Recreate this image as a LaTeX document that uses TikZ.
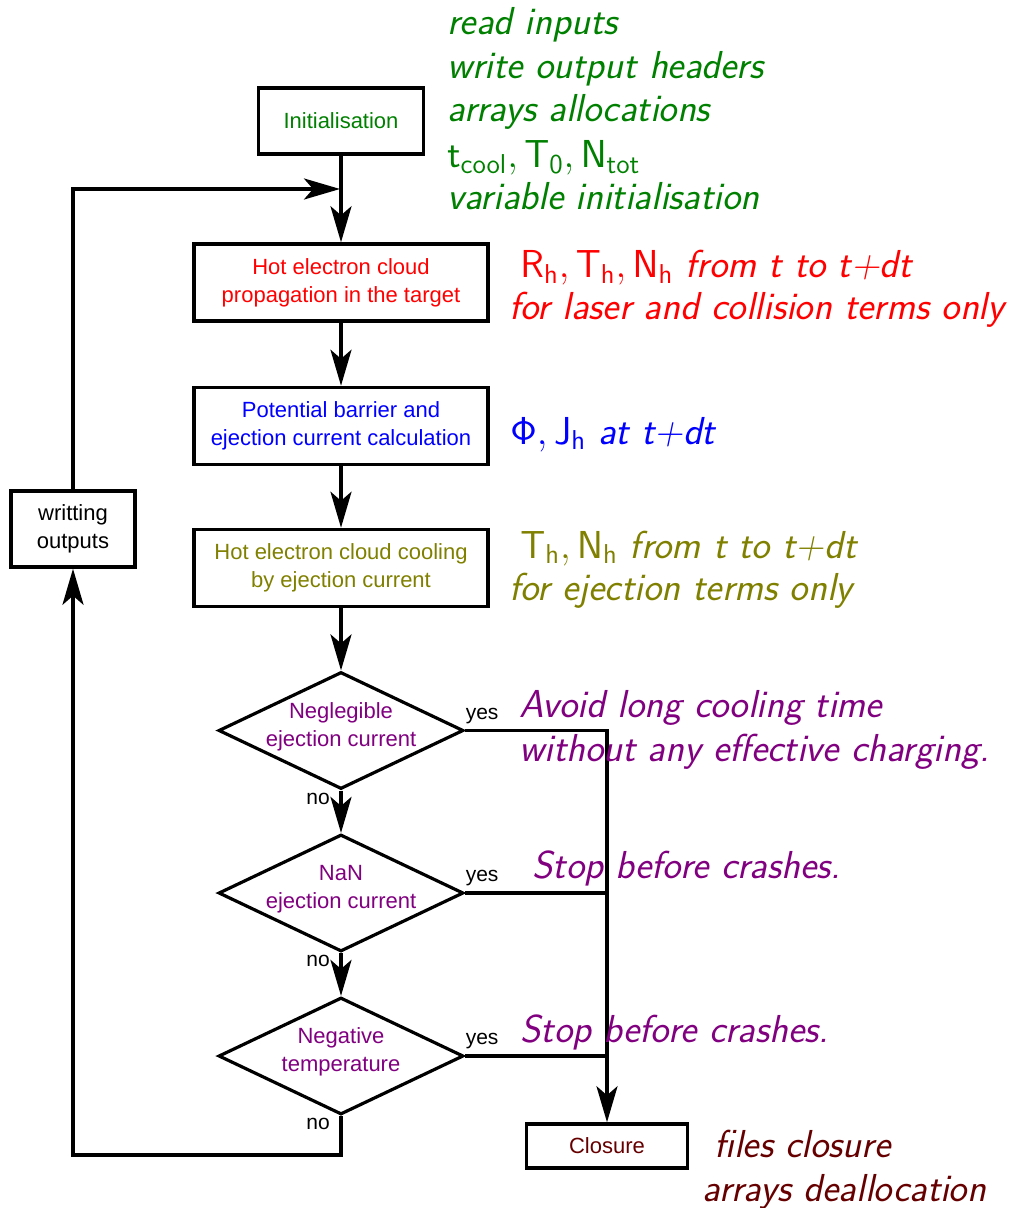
\RequirePackage{fix-cm}
\documentclass[tikz,border=0pt]{standalone}
\usepackage[no-math]{fontspec}
\newfontfamily\arialf{Liberation Sans}
\usetikzlibrary{shapes.geometric,arrows.meta}
\definecolor{cgreen}{rgb}{0,0.5,0}
\definecolor{colive}{rgb}{0.5,0.5,0}
\definecolor{cpurple}{rgb}{0.5,0,0.5}
\definecolor{cmaroon}{rgb}{0.4,0,0}
\newcommand{\diatext}[1]{\raisebox{2pt}[\height][\depth]{\begin{tabular}{@{}c@{}}#1\end{tabular}}}
\tikzset{
  box/.style={draw, line width=1.75pt, align=center, inner sep=0pt,
    font=\arialf\fontsize{11}{14}\selectfont},
  widebox/.style={box, minimum width=147pt, minimum height=38.5pt},
  dia/.style={draw, diamond, line width=1.6pt, aspect=2.094, inner xsep=-4pt, inner ysep=-6pt,
    minimum width=122.5pt, minimum height=58.5pt, text=cpurple,
    font=\arialf\fontsize{11}{14}\selectfont},
  ln/.style={line width=1.75pt},
  arr/.style={ln, -{Stealth[length=18pt,width=10.5pt,inset=4.5pt]}},
  lbl/.style={inner sep=0pt, font=\arialf\fontsize{10.5}{12}\selectfont},
  ann/.style={anchor=base west, inner sep=0pt,
    font=\sffamily\slshape\fontsize{19.5}{23}\selectfont}
}
\begin{document}
\begin{tikzpicture}[x=0.5pt,y=-0.5pt]
\useasboundingbox (0,0) rectangle (1011,1208);
% boxes
\node[box, minimum width=82.5pt, minimum height=33pt, text=cgreen] (init) at (341,121) {Initialisation};
\node[widebox, text=red] (hot) at (341,282.5) {Hot electron cloud\\propagation in the target};
\node[widebox, text=blue] (pot) at (341,426) {Potential barrier and\\ejection current calculation};
\node[widebox, text=colive] (cool) at (341,568) {Hot electron cloud cooling\\by ejection current};
\node[dia] (d1) at (341,730.5) {\diatext{Neglegible\\ejection current}};
\node[dia] (d2) at (341,893) {\diatext{NaN\\ejection current}};
\node[dia] (d3) at (341,1056) {\diatext{Negative\\temperature}};
\node[box, minimum width=62pt, minimum height=38pt] (wo) at (73,529) {writting\\outputs};
\node[box, minimum width=80.5pt, minimum height=22pt, text=cmaroon] (clo) at (607,1146) {Closure};
% connectors
\draw[arr] (init) -- (hot);
\draw[arr] (hot) -- (pot);
\draw[arr] (pot) -- (cool);
\draw[arr] (cool) -- (d1);
\draw[arr] (d1) -- (d2);
\draw[arr] (d2) -- (d3);
\draw[arr] (d1.east) -| (clo.north);
\draw[ln] (d2.east) -- (d2.east -| clo.north);
\draw[ln] (d3.east) -- (d3.east -| clo.north);
\coordinate (lb) at (73,1155);
\draw[arr] (d3.south) |- (lb) -- (wo.south);
\coordinate (lt) at (340,189);
\draw[arr] (wo.north) |- (lt);
% yes / no labels
\node[lbl] (y1) at ([xshift=8.5pt,yshift=7.25pt]d1.east) {yes};
\node[lbl] (y2) at ([xshift=8.5pt,yshift=7.25pt]d2.east) {yes};
\node[lbl] (y3) at ([xshift=8.5pt,yshift=7.25pt]d3.east) {yes};
\node[lbl] (n1) at ([xshift=-11.5pt,yshift=-4pt]d1.south) {no};
\node[lbl] (n2) at ([xshift=-11.5pt,yshift=-4pt]d2.south) {no};
\node[lbl] (n3) at ([xshift=-11.5pt,yshift=-4pt]d3.south) {no};
% annotations
\node[ann, text=cgreen] (g1) at (447,35) {read inputs};
\node[ann, text=cgreen] (g2) at (447,79) {write output headers};
\node[ann, text=cgreen] (g3) at (447,122) {arrays allocations};
\node[ann, text=cgreen] (g4) at (447,168) {$\mathsf{t_{cool}, T_0, N_{tot}}$};
\node[ann, text=cgreen] (g5) at (447,210) {variable initialisation};
\node[ann, text=red] (r1) at (520,278) {$\mathsf{R_h, T_h, N_h}$ from t to t+dt};
\node[ann, text=red] (r2) at (509,320) {for laser and collision terms only};
\node[ann, text=blue] (b1) at (510,444) {$\mathsf{\Phi, J_h}$ at t+dt};
\node[ann, text=colive] (o1) at (520,558) {$\mathsf{T_h, N_h}$ from t to t+dt};
\node[ann, text=colive] (o2) at (509,600) {for ejection terms only};
\node[ann, text=cpurple] (p1) at (519,717) {Avoid long cooling time};
\node[ann, text=cpurple] (p2) at (519,761) {without any effective charging.};
\node[ann, text=cpurple] (p3) at (532,878) {Stop before crashes.};
\node[ann, text=cpurple] (p4) at (520,1042) {Stop before crashes.};
\node[ann, text=cmaroon] (m1) at (714,1157) {files closure};
\node[ann, text=cmaroon] (m2) at (702,1201) {arrays deallocation};
\end{tikzpicture}
\end{document}
